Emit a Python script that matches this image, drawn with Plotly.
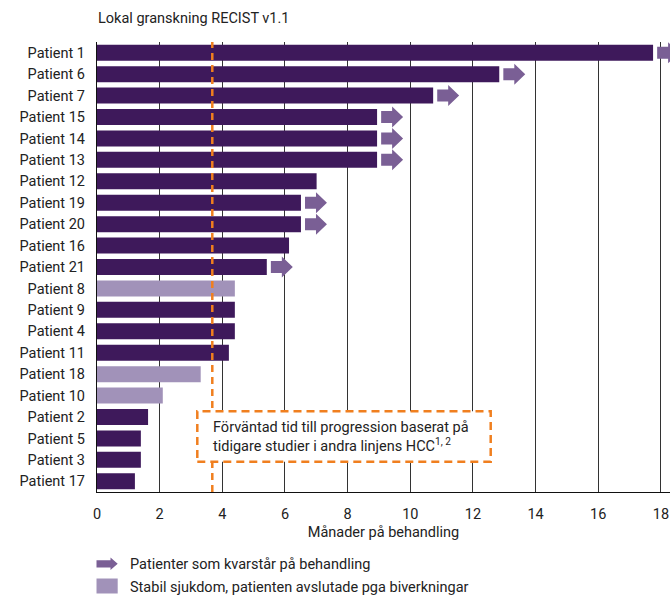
import plotly.graph_objects as go

# Patients in display order (top to bottom)
patients = ["Patient 1", "Patient 6", "Patient 7", "Patient 15", "Patient 14", "Patient 13",
            "Patient 12", "Patient 19", "Patient 20", "Patient 16", "Patient 21", "Patient 8",
            "Patient 9", "Patient 4", "Patient 11", "Patient 18", "Patient 10", "Patient 2",
            "Patient 5", "Patient 3", "Patient 17"]
# Months on treatment
months = [17.75, 12.84, 10.73, 8.94, 8.94, 8.94,
          7.01, 6.51, 6.51, 6.13, 5.42, 4.40,
          4.40, 4.40, 4.21, 3.31, 2.10, 1.63,
          1.40, 1.40, 1.21]
# Still on treatment (arrow)
ongoing = [True, True, True, True, True, True,
           False, True, True, False, True, False,
           False, False, False, False, False, False,
           False, False, False]
# Stable disease, discontinued due to adverse events
stopped_ae = [False, False, False, False, False, False,
              False, False, False, False, False, True,
              False, False, False, True, True, False,
              False, False, False]
expected_progression = 3.68  # months

title_text = "Lokal granskning RECIST v1.1"
x_title = "Månader på behandling"
box_text = "Förväntad tid till progression baserat på<br>tidigare studier i andra linjens HCC<sup>1, 2</sup>"
legend_labels = ["Patienter som kvarstår på behandling",
                 "Stabil sjukdom, patienten avslutade pga biverkningar"]
x_ticks = [0, 2, 4, 6, 8, 10, 12, 14, 16, 18]

DARK = "#3e195b"
LIGHT = "#a192b9"
ARROW = "#7a5f95"
ORANGE = "#f07f1f"
TEXT = "#222222"
FONT = "Roboto"
FS = 14.5

W, H = 670, 595
ML, MR, MT, MB = 97, 0, 42, 103
PW, PH = W - ML - MR, H - MT - MB


def px_x(px):
    return (px - ML) / PW


def px_y(py):
    return (H - MB - py) / PH


ypos = list(range(len(patients)))
colors = [LIGHT if s else DARK for s in stopped_ae]

fig = go.Figure()
fig.add_trace(go.Bar(
    x=months, y=ypos, orientation="h",
    marker=dict(color=colors, line=dict(width=0)),
    width=0.747, hovertext=patients, hoverinfo="x+text",
    showlegend=False,
))

shapes = []
# continuation arrows after the bars
gap, shaft_len, head_len = 0.13, 0.35, 0.35
sh, hh = 0.28, 0.49
for y, v, on in zip(ypos, months, ongoing):
    if not on:
        continue
    x0 = v + gap
    xm = x0 + shaft_len
    xt = xm + head_len
    path = (f"M {x0},{y - sh} L {xm},{y - sh} L {xm},{y - hh} L {xt},{y} "
            f"L {xm},{y + hh} L {xm},{y + sh} L {x0},{y + sh} Z")
    shapes.append(dict(type="path", path=path, xref="x", yref="y",
                       fillcolor=ARROW, line=dict(width=0), layer="above"))

# expected time to progression
shapes.append(dict(type="line", xref="x", yref="paper",
                   x0=expected_progression, x1=expected_progression, y0=0, y1=1,
                   line=dict(color=ORANGE, width=2.5, dash="7px,5px"), layer="above"))

# annotation box (covers grid and dashed line)
shapes.append(dict(type="rect", xref="paper", yref="paper",
                   x0=px_x(197.3), x1=px_x(490.7), y0=px_y(461.7), y1=px_y(411.3),
                   fillcolor="white", line=dict(color=ORANGE, width=2.5, dash="8px,5px"),
                   layer="above"))

# legend icons
lx0, lxm, lxt = 96.5, 110.5, 117.7
lc, lsh, lhh = 563.8, 3.6, 6.2
legend_arrow = (f"M {px_x(lx0)},{px_y(lc - lsh)} L {px_x(lxm)},{px_y(lc - lsh)} "
                f"L {px_x(lxm)},{px_y(lc - lhh)} L {px_x(lxt)},{px_y(lc)} "
                f"L {px_x(lxm)},{px_y(lc + lhh)} L {px_x(lxm)},{px_y(lc + lsh)} "
                f"L {px_x(lx0)},{px_y(lc + lsh)} Z")
shapes.append(dict(type="path", path=legend_arrow, xref="paper", yref="paper",
                   fillcolor=ARROW, line=dict(width=0), layer="above"))
shapes.append(dict(type="rect", xref="paper", yref="paper",
                   x0=px_x(96.5), x1=px_x(117.7), y0=px_y(593.5), y1=px_y(578.5),
                   fillcolor=LIGHT, line=dict(width=0), layer="above"))

annotations = [
    dict(text=title_text, xref="paper", yref="paper", x=px_x(96), y=px_y(18),
         xanchor="left", yanchor="middle", showarrow=False,
         font=dict(family=FONT, size=FS, color=TEXT)),
    dict(text=box_text, xref="paper", yref="paper", x=px_x(210.5), y=px_y(436.5),
         xanchor="left", yanchor="middle", align="left", showarrow=False,
         font=dict(family=FONT, size=FS, color=TEXT)),
    dict(text=legend_labels[0], xref="paper", yref="paper", x=px_x(127.5), y=px_y(564),
         xanchor="left", yanchor="middle", showarrow=False,
         font=dict(family=FONT, size=FS, color=TEXT)),
    dict(text=legend_labels[1], xref="paper", yref="paper", x=px_x(127.5), y=px_y(587),
         xanchor="left", yanchor="middle", showarrow=False,
         font=dict(family=FONT, size=FS, color=TEXT)),
]

fig.update_layout(
    width=W, height=H,
    margin=dict(l=ML, r=MR, t=MT, b=MB, pad=0),
    paper_bgcolor="white", plot_bgcolor="white",
    font=dict(family=FONT, size=FS, color=TEXT),
    shapes=shapes, annotations=annotations,
)
fig.update_xaxes(
    range=[0, 18.29], tickvals=x_ticks, ticktext=[str(t) for t in x_ticks],
    showgrid=True, gridcolor="#333333", gridwidth=1,
    showline=True, linecolor="#111111", linewidth=1.2,
    zeroline=False, ticks="", ticklabelstandoff=8,
    tickfont=dict(family=FONT, size=FS, color=TEXT),
    title=dict(text=x_title, font=dict(family=FONT, size=FS, color=TEXT), standoff=5),
    fixedrange=True,
)
fig.update_yaxes(
    range=[20.5, -0.5], tickvals=ypos, ticktext=patients,
    showgrid=False, showline=True, linecolor="#111111", linewidth=1.2,
    zeroline=False, ticks="", ticklabelstandoff=8,
    tickfont=dict(family=FONT, size=FS, color=TEXT),
    fixedrange=True,
)

fig.write_html("out.html", config=dict(displayModeBar=False))
